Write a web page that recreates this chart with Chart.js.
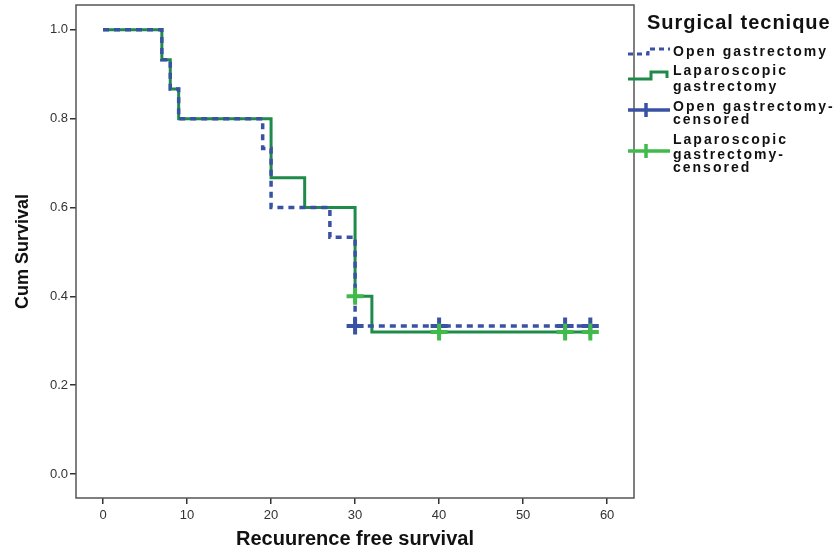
<!DOCTYPE html>
<html>
<head>
<meta charset="utf-8">
<script src="https://cdn.jsdelivr.net/npm/chart.js@4"></script>
<style>
  body { margin: 0; background: #fff; }
  #wrap { width: 836px; height: 552px; }
</style>
</head>
<body>
<div id="wrap"><canvas id="km" width="836" height="552"></canvas></div>
<script>
// Kaplan-Meier steps
const openTimes = [0, 7, 8, 9, 19, 20, 27, 30, 58];
const openSurv = [1.0, 0.933, 0.867, 0.8, 0.733, 0.6, 0.533, 0.333, 0.333];
const lapTimes = [0, 7, 8, 9, 20, 24, 30, 32, 58];
const lapSurv = [1.0, 0.933, 0.867, 0.8, 0.667, 0.6, 0.4, 0.32, 0.32];

// censored cases
const openCensTimes = [30, 40, 55, 58];
const openCensSurv = [0.333, 0.333, 0.333, 0.333];
const lapCensTimes = [30, 40, 55, 58];
const lapCensSurv = [0.4, 0.32, 0.32, 0.32];

const legendTitle = 'Surgical tecnique';
const legendItems = [
    ['Open gastrectomy'],
    ['Laparoscopic', 'gastrectomy'],
    ['Open gastrectomy-', 'censored'],
    ['Laparoscopic', 'gastrectomy-', 'censored']
];

const blue = '#3a52a3';
const green = '#1f8b4a';
const lightGreen = '#40bb4b';

function pts(xs, ys) {
    return xs.map((x, i) => ({ x: x, y: ys[i] }));
}

// frame round the plot + legend on the right
const extras = {
    id: 'extras',
    afterDraw(chart) {
        const ctx = chart.ctx;
        const a = chart.chartArea;
        ctx.save();
        ctx.strokeStyle = '#555';
        ctx.lineWidth = 1.5;
        ctx.strokeRect(a.left, a.top, a.right - a.left, a.bottom - a.top);

        ctx.fillStyle = '#111';
        ctx.textBaseline = 'middle';
        ctx.font = 'bold 20px "Liberation Sans", Arial, sans-serif';
        ctx.letterSpacing = '1px';
        ctx.fillText(legendTitle, 647, 23);

        ctx.font = 'bold 14px "Liberation Sans", Arial, sans-serif';
        ctx.letterSpacing = '2px';
        const lineY = [[52], [71, 87], [107, 120], [140, 155, 168]];
        legendItems.forEach((lines, i) => {
            lines.forEach((t, j) => ctx.fillText(t, 673, lineY[i][j]));
        });
        ctx.letterSpacing = '0px';

        // symbols
        ctx.lineWidth = 3;
        ctx.strokeStyle = blue;
        ctx.setLineDash([5, 4]);
        ctx.beginPath();
        ctx.moveTo(628, 54); ctx.lineTo(648, 54); ctx.lineTo(648, 49); ctx.lineTo(670, 49);
        ctx.stroke();
        ctx.setLineDash([]);

        ctx.strokeStyle = green;
        ctx.beginPath();
        ctx.moveTo(628, 79); ctx.lineTo(651, 79); ctx.lineTo(651, 72); ctx.lineTo(667, 72); ctx.lineTo(667, 78);
        ctx.stroke();

        ctx.lineWidth = 3.5;
        [[blue, 110], [lightGreen, 151]].forEach(([c, y]) => {
            ctx.strokeStyle = c;
            ctx.beginPath();
            ctx.moveTo(628, y); ctx.lineTo(670, y);
            ctx.moveTo(646, y - 7); ctx.lineTo(646, y + 7);
            ctx.stroke();
        });
        ctx.restore();
    }
};

const ctx = document.getElementById('km').getContext('2d');
new Chart(ctx, {
    type: 'line',
    data: {
        datasets: [
            {
                label: 'Laparoscopic gastrectomy-censored',
                data: pts(lapCensTimes, lapCensSurv),
                showLine: false,
                pointStyle: 'cross',
                pointRadius: 8.5,
                pointBorderWidth: 4,
                borderWidth: 4,
                borderColor: lightGreen,
                order: -1
            },
            {
                label: 'Open gastrectomy-censored',
                data: pts(openCensTimes, openCensSurv),
                showLine: false,
                pointStyle: 'cross',
                pointRadius: 8.5,
                pointBorderWidth: 4,
                borderWidth: 4,
                borderColor: blue,
                order: 0
            },
            {
                label: 'Open gastrectomy',
                data: pts(openTimes, openSurv),
                stepped: 'before',
                borderColor: blue,
                borderWidth: 3.5,
                borderDash: [6, 5],
                pointRadius: 0,
                fill: false,
                order: 1
            },
            {
                label: 'Laparoscopic gastrectomy',
                data: pts(lapTimes, lapSurv),
                stepped: 'before',
                borderColor: green,
                borderWidth: 3,
                pointRadius: 0,
                fill: false,
                order: 2
            }
        ]
    },
    options: {
        responsive: false,
        animation: false,
        layout: { autoPadding: false, padding: { left: 0, top: 5, right: 202, bottom: 0 } },
        plugins: { legend: { display: false }, tooltip: { enabled: false } },
        scales: {
            x: {
                type: 'linear',
                min: -3.22,
                max: 63.2,
                border: { display: false },
                grid: { drawOnChartArea: false, drawTicks: true, tickLength: 6, color: '#333', lineWidth: 1.5 },
                ticks: {
                    stepSize: 10,
                    includeBounds: false,
                    padding: 4,
                    color: '#333',
                    font: { family: '"Liberation Sans", Arial', size: 13 }
                },
                title: {
                    display: true,
                    text: 'Recuurence free survival',
                    color: '#111',
                    padding: { top: 0, bottom: 1 },
                    font: { family: '"Liberation Sans", Arial', size: 20, weight: 'bold' }
                },
                afterFit(scale) {
                    scale.height = 54;
                    scale.paddingLeft = 0;
                    scale.paddingRight = 0;
                }
            },
            y: {
                min: -0.054,
                max: 1.056,
                border: { display: false },
                grid: { drawOnChartArea: false, drawTicks: true, tickLength: 6, color: '#333', lineWidth: 1.5 },
                ticks: {
                    stepSize: 0.2,
                    includeBounds: false,
                    padding: 2,
                    color: '#333',
                    callback: v => v.toFixed(1),
                    font: { family: '"Liberation Sans", Arial', size: 13 }
                },
                title: {
                    display: true,
                    text: 'Cum Survival',
                    color: '#111',
                    padding: { top: 12, bottom: 0 },
                    font: { family: '"Liberation Sans", Arial', size: 18, weight: 'bold' }
                },
                afterFit(scale) {
                    scale.width = 76;
                    scale.paddingTop = 0;
                    scale.paddingBottom = 0;
                }
            }
        }
    },
    plugins: [extras]
});
</script>
</body>
</html>
